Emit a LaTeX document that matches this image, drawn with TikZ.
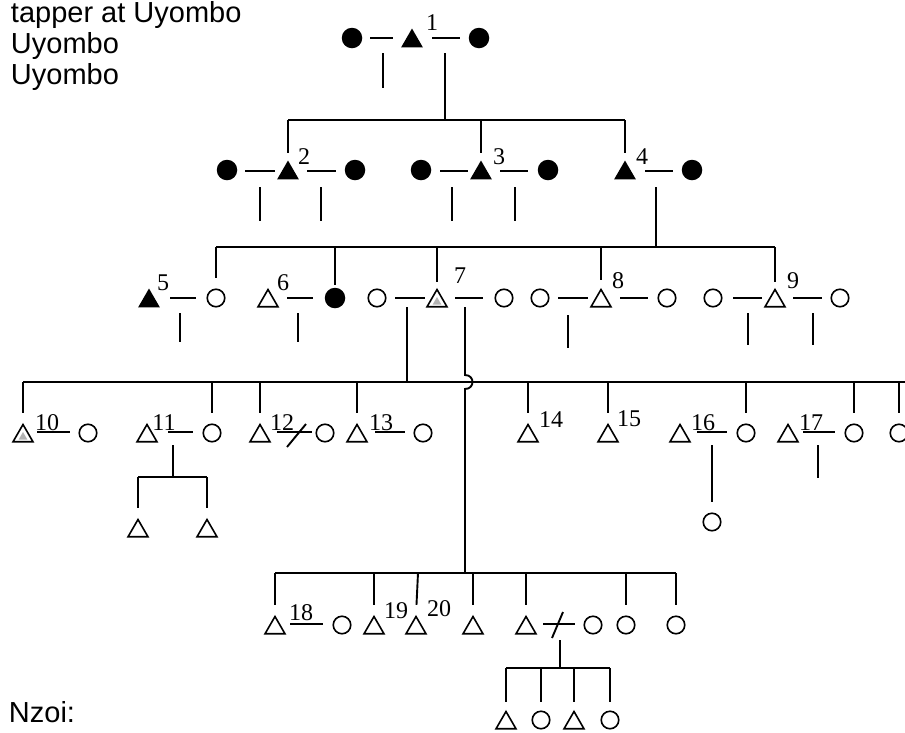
\documentclass[tikz,border=0pt]{standalone}
\usepackage{fontspec}
\setmainfont{Liberation Serif}
\newfontfamily\lsans{Liberation Sans}
\usetikzlibrary{shapes.geometric}
\newcommand\wed[5]{\draw[shorten <=#3pt, shorten >=#4pt] (#1 |- #5) -- (#2 |- #5);}
\newcommand\dropto[3]{\draw[shorten >=#3pt] (#1 |- #2) -- (#1);}
\newcommand\stub[4]{\coordinate (#1top) at (#2,#3); \coordinate (#1bot) at (#2,#4); \draw (#1top) -- (#1bot);}
\tikzset{
 oc/.style={circle, draw, line width=1.6pt, minimum size=17.5pt, inner sep=0pt},
 fc/.style={circle, fill, minimum size=20.5pt, inner sep=0pt},
 ot/.style={regular polygon, regular polygon sides=3, draw, line width=1.6pt, minimum size=23pt, inner sep=0pt, yshift=-3pt},
 ft/.style={regular polygon, regular polygon sides=3, fill, minimum size=25pt, inner sep=0pt, yshift=-3pt},
 innergrey/.style={regular polygon, regular polygon sides=3, fill=gray!60, minimum size=10pt, inner sep=0pt, yshift=-4pt},
 num/.style={font=\fontsize{24}{26}\selectfont, inner sep=0pt},
 captext/.style={font=\lsans\fontsize{29}{34}\selectfont, inner sep=0pt, anchor=base west},
}
\begin{document}
\begin{tikzpicture}[x=1pt, y=-1pt, line width=1.9pt]
\useasboundingbox (0,0) rectangle (905,732);
% ---------- texts ----------
\node[captext] (tx1) at (10,22) {tapper at Uyombo};
\node[captext] (tx2) at (10,53) {Uyombo};
\node[captext] (tx3) at (10,84) {Uyombo};
\node[captext] (tx4) at (8,722) {Nzoi:};
% ---------- rows / bars ----------
\coordinate (r1) at (0,38);
\coordinate (r2) at (0,171);
\coordinate (r3) at (0,298);
\coordinate (r4) at (0,432);
\coordinate (r5) at (0,624);
\coordinate (b1) at (445,120);
\coordinate (b2) at (656,247);
\coordinate (b3) at (407,382);
\coordinate (b4) at (173,477);
\coordinate (b5) at (465,573);
\coordinate (b6) at (560,668);
% ---------- generation 1 ----------
\node[fc] (g1w1) at (352,38) {};
\node[ft] (g1m) at (412,38) {};
\node[fc] (g1w2) at (479,38) {};
% ---------- generation 2 ----------
\node[fc] (w2a) at (227,170) {};
\node[ft] (t2) at (288,170) {};
\node[fc] (w2b) at (355,170) {};
\node[fc] (w3a) at (421,170) {};
\node[ft] (t3) at (481,170) {};
\node[fc] (w3b) at (548,170) {};
\node[ft] (t4) at (625,170) {};
\node[fc] (w4) at (692,170) {};
% ---------- generation 3 ----------
\node[ft] (t5) at (149,298) {};
\node[oc] (c5) at (216,298) {};
\node[ot] (t6) at (268,298) {};
\node[fc] (c6) at (335,298) {};
\node[oc] (c7a) at (377,298) {};
\node[ot] (t7) at (437,298) {};
\node[innergrey] (t7g) at (437,298) {};
\node[oc] (c7b) at (504,298) {};
\node[oc] (c8a) at (540,298) {};
\node[ot] (t8) at (601,298) {};
\node[oc] (c8b) at (667,298) {};
\node[oc] (c9a) at (713,298) {};
\node[ot] (t9) at (775,298) {};
\node[oc] (c9b) at (840,298) {};
% ---------- generation 4 ----------
\node[ot] (t10) at (23,433) {};
\node[innergrey] (t10g) at (23,433) {};
\node[oc] (c10) at (88,433) {};
\node[ot] (t11) at (147,433) {};
\node[oc] (c11) at (212,433) {};
\node[ot] (t12) at (260,433) {};
\node[oc] (c12) at (325,433) {};
\node[ot] (t13) at (357,433) {};
\node[oc] (c13) at (423,433) {};
\node[ot] (t14) at (528,433) {};
\node[ot] (t15) at (608,433) {};
\node[ot] (t16) at (680,433) {};
\node[oc] (c16) at (746,433) {};
\node[ot] (t17) at (788,433) {};
\node[oc] (c17) at (854,433) {};
\node[oc] (cR) at (899,433) {};
\node[ot] (k11a) at (138,528) {};
\node[ot] (k11b) at (207,528) {};
\node[oc] (k16) at (712,522) {};
% ---------- generation 5 ----------
\node[ot] (t18) at (275,625) {};
\node[oc] (c18) at (342,625) {};
\node[ot] (t19) at (374,625) {};
\node[ot] (t20) at (416,625) {};
\node[ot] (t21) at (473,625) {};
\node[ot] (t22) at (526,625) {};
\node[oc] (c22) at (593,625) {};
\node[oc] (c23) at (626,625) {};
\node[oc] (c24) at (676,625) {};
\node[ot] (k22a) at (506,720) {};
\node[oc] (k22b) at (541,720) {};
\node[ot] (k22c) at (574,720) {};
\node[oc] (k22d) at (610,720) {};
% ---------- number labels ----------
\node[num] (l1) at (432,23) {1};
\node[num] (l2) at (304,157) {2};
\node[num] (l3) at (499,157) {3};
\node[num] (l4) at (642,157) {4};
\node[num] (l5) at (163,283) {5};
\node[num] (l6) at (283,283) {6};
\node[num] (l7) at (460,276) {7};
\node[num] (l8) at (618,281) {8};
\node[num] (l9) at (793,281) {9};
\node[num] (l10) at (47,423) {10};
\node[num] (l11) at (164,423) {11};
\node[num] (l12) at (282,423) {12};
\node[num] (l13) at (381,423) {13};
\node[num] (l14) at (551,420) {14};
\node[num] (l15) at (629,419) {15};
\node[num] (l16) at (703,423) {16};
\node[num] (l17) at (811,423) {17};
\node[num] (l18) at (301,613) {18};
\node[num] (l19) at (396,611) {19};
\node[num] (l20) at (439,609) {20};
% ---------- marriages gen 1 ----------
\wed{g1w1}{g1m}{18}{19}{r1}
\wed{g1m}{g1w2}{20}{19}{r1}
\stub{sa}{383}{53}{88}
\coordinate (p1) at (445,53);
\draw (p1) -- (b1);
\draw (t2.corner 1 |- b1) -- (t4.corner 1 |- b1);
\dropto{t2.corner 1}{b1}{6}
\dropto{t3.corner 1}{b1}{6}
\dropto{t4.corner 1}{b1}{6}
% ---------- marriages gen 2 ----------
\wed{w2a}{t2}{18}{13}{r2}
\wed{t2}{w2b}{19}{19}{r2}
\wed{w3a}{t3}{19}{13}{r2}
\wed{t3}{w3b}{19}{20}{r2}
\wed{t4}{w4}{20}{19}{r2}
\stub{sb}{260}{187}{221}
\stub{sc}{321}{187}{221}
\stub{sd}{452}{187}{221}
\stub{se}{515}{187}{221}
\coordinate (p4) at (656,187);
\draw (p4) -- (b2);
\draw (c5.north |- b2) -- (t9.corner 1 |- b2);
\dropto{c5.north}{b2}{10}
\dropto{c6.north}{b2}{2}
\dropto{t7.corner 1}{b2}{6}
\dropto{t8.corner 1}{b2}{8}
\dropto{t9.corner 1}{b2}{6}
% ---------- marriages gen 3 ----------
\wed{t5}{c5}{21}{20}{r3}
\wed{t6}{c6}{19}{22}{r3}
\wed{c7a}{t7}{18}{12}{r3}
\wed{t7}{c7b}{18}{21}{r3}
\wed{c8a}{t8}{18}{13}{r3}
\wed{t8}{c8b}{19}{19}{r3}
\wed{c9a}{t9}{20}{13}{r3}
\wed{t9}{c9b}{18}{18}{r3}
\stub{sf}{180}{313}{342}
\stub{sg}{298}{313}{342}
\stub{sh}{568}{315}{348}
\stub{si}{748}{313}{345}
\stub{sj}{813}{313}{345}
\coordinate (p7l) at (407,307);
\draw (p7l) -- (b3);
\coordinate (p7r) at (465,307);
\coordinate (hopA) at (465,375);
\coordinate (hopB) at (465,389);
\draw (p7r) -- (hopA) .. controls +(10,0) and +(10,0) .. (hopB) -- (b5);
\coordinate (b3r) at (905,382);
\draw (t10.corner 1 |- b3) -- (b3r);
\dropto{t10.corner 1}{b3}{10}
\dropto{c11.north}{b3}{10}
\dropto{t12.corner 1}{b3}{10}
\dropto{t13.corner 1}{b3}{10}
\dropto{t14.corner 1}{b3}{10}
\dropto{t15.corner 1}{b3}{10}
\dropto{c16.north}{b3}{10}
\dropto{c17.north}{b3}{10}
\dropto{cR.north}{b3}{10}
% ---------- marriages gen 4 ----------
\wed{t10}{c10}{14}{18}{r4}
\wed{t11}{c11}{21}{19}{r4}
\wed{t12}{c12}{17}{13}{r4}
\coordinate (s12a) at (287,447);
\coordinate (s12b) at (306,424);
\draw (s12a) -- (s12b);
\wed{t13}{c13}{18}{18}{r4}
\wed{t16}{c16}{17}{19}{r4}
\wed{t17}{c17}{15}{19}{r4}
\stub{sk}{818}{445}{478}
\coordinate (p11) at (173,445);
\draw (p11) -- (b4);
\draw (k11a.corner 1 |- b4) -- (k11b.corner 1 |- b4);
\dropto{k11a.corner 1}{b4}{10}
\dropto{k11b.corner 1}{b4}{10}
\coordinate (p16) at (712,445);
\draw[shorten >=10pt] (p16) -- (k16.north);
% ---------- generation 5 ----------
\draw (t18.corner 1 |- b5) -- (c24.north |- b5);
\dropto{t18.corner 1}{b5}{10}
\dropto{t19.corner 1}{b5}{10}
\coordinate (d20) at (418,573);
\draw[shorten >=10pt] (d20) -- (t20.corner 1);
\dropto{t21.corner 1}{b5}{10}
\dropto{t22.corner 1}{b5}{10}
\dropto{c23.north}{b5}{10}
\dropto{c24.north}{b5}{10}
\wed{t18}{c18}{15}{19}{r5}
\wed{t22}{c22}{17}{18}{r5}
\coordinate (s22a) at (552,638);
\coordinate (s22b) at (563,612);
\draw (s22a) -- (s22b);
\coordinate (p22) at (560,640);
\draw (p22) -- (b6);
\draw (k22a.corner 1 |- b6) -- (k22d.north |- b6);
\dropto{k22a.corner 1}{b6}{8}
\dropto{k22b.north}{b6}{8}
\dropto{k22c.corner 1}{b6}{8}
\dropto{k22d.north}{b6}{8}
\end{tikzpicture}
\end{document}
